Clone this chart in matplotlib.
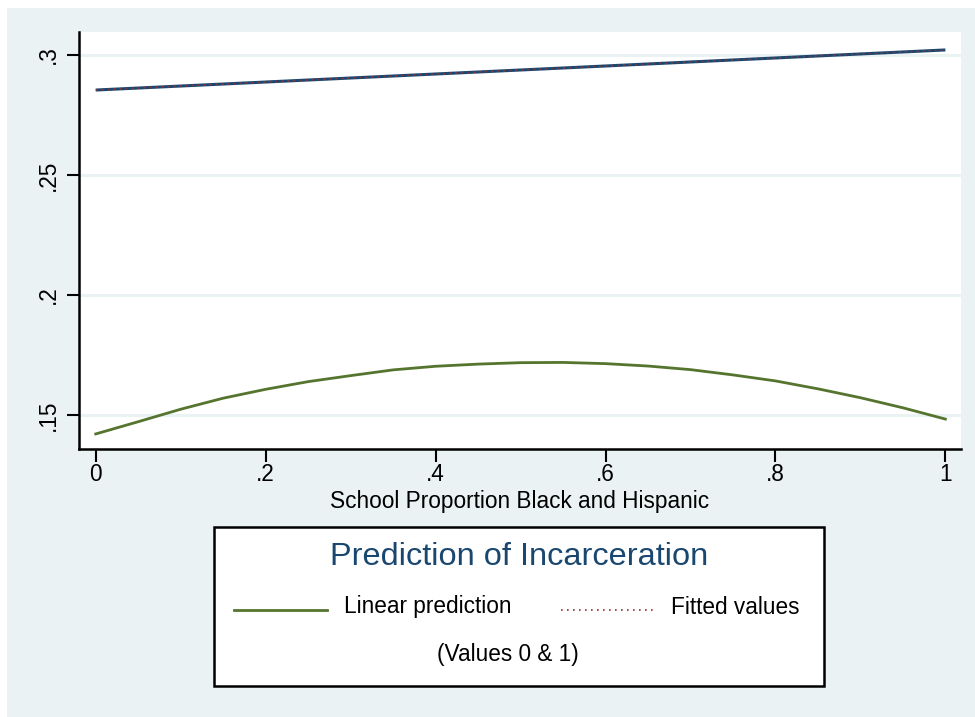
import numpy as np
import matplotlib
matplotlib.use("Agg")
import matplotlib.pyplot as plt
from matplotlib.patches import Rectangle
from matplotlib.lines import Line2D

plt.rcParams['font.family'] = ['Liberation Sans', 'DejaVu Sans']

# datos
prop = [0.0, 0.05, 0.1, 0.15, 0.2, 0.25, 0.3, 0.35, 0.4, 0.45, 0.5,
        0.55, 0.6, 0.65, 0.7, 0.75, 0.8, 0.85, 0.9, 0.95, 1.0]
linear_pred = [0.1421, 0.1472, 0.1524, 0.1570, 0.1607, 0.1639, 0.1664,
               0.1688, 0.1703, 0.1712, 0.1718, 0.1719, 0.1714, 0.1704,
               0.1689, 0.1667, 0.1642, 0.1609, 0.1572, 0.1530, 0.1483]
fit_x = [0.0, 1.0]
fitted = [0.2854, 0.3021]

xticks = [0, 0.2, 0.4, 0.6, 0.8, 1]
xtick_labels = ['0', '.2', '.4', '.6', '.8', '1']
yticks = [0.15, 0.2, 0.25, 0.3]
ytick_labels = ['.15', '.2', '.25', '.3']

navy = '#1a476f'
maroon = '#90353b'
green = '#55752f'
bg = '#eaf2f3'
dots = (0, (1, 2.6))

W, H = 975, 717
fig = plt.figure(figsize=(W / 100, H / 100), dpi=100)
fig.patch.set_facecolor('white')
fig.patches.append(Rectangle((7 / W, 0), 1 - 7 / W, 1 - 8 / H,
                             transform=fig.transFigure, facecolor=bg,
                             edgecolor='none', zorder=-5))

ax = fig.add_axes([79 / W, 1 - 449 / H, (961 - 79) / W, (449 - 32) / H])
ax.set_zorder(1)
ax.set_facecolor('white')

ax.plot(fit_x, fitted, color=navy, lw=2.2, solid_capstyle='butt', zorder=3)
ax.plot(fit_x, fitted, color=maroon, lw=1.2, ls=dots, zorder=4)
ax.plot(prop, linear_pred, color=green, lw=2.0, zorder=3)

ax.set_xlim(-0.0197, 1.0184)
ax.set_ylim(0.13583, 0.30958)

for y in yticks:
    ax.axhline(y, color=bg, lw=2.2, zorder=1)

ax.set_xticks(xticks)
ax.set_xticklabels(xtick_labels)
ax.set_yticks(yticks)
ax.set_yticklabels(ytick_labels, rotation=90, va='center')
ax.tick_params(axis='both', direction='out', length=9, width=1.5,
               labelsize=16.3, color='black')
ax.tick_params(axis='x', pad=1)
ax.tick_params(axis='y', pad=5)

for s in ['top', 'right']:
    ax.spines[s].set_visible(False)
for s in ['left', 'bottom']:
    ax.spines[s].set_linewidth(1.8)

ax.set_xlabel('School Proportion Black and Hispanic', fontsize=16.3,
              labelpad=3)

# leyenda dibujada a mano
fig.patches.append(Rectangle((214 / W, 1 - 686 / H), (824 - 214) / W,
                             (686 - 527) / H, transform=fig.transFigure,
                             facecolor='white', edgecolor='black', lw=1.8,
                             zorder=2))
fig.text(519 / W, 1 - 557 / H, 'Prediction of Incarceration', fontsize=23.4,
         color=navy, ha='center', va='center', zorder=3)
fig.lines.append(Line2D([234 / W, 327 / W], [1 - 610 / H, 1 - 610 / H],
                        transform=fig.transFigure, color=green, lw=2.0,
                        zorder=3))
fig.lines.append(Line2D([561 / W, 655 / W], [1 - 610 / H, 1 - 610 / H],
                        transform=fig.transFigure, color=maroon, lw=1.2,
                        ls=dots, zorder=3))
fig.text(344 / W, 1 - 607 / H, 'Linear prediction', fontsize=16.3,
         ha='left', va='center', zorder=3)
fig.text(671 / W, 1 - 607 / H, 'Fitted values', fontsize=16.3,
         ha='left', va='center', zorder=3)
fig.text(508 / W, 1 - 655 / H, '(Values 0 & 1)', fontsize=16.3,
         ha='center', va='center', zorder=3)

fig.savefig('out.png', dpi=100)
